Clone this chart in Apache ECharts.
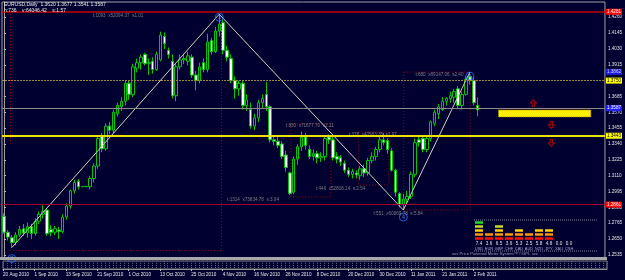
<!DOCTYPE html>
<html>
<head>
<meta charset="utf-8">
<title>EURUSD Daily</title>
<script src="https://cdn.jsdelivr.net/npm/echarts@6/dist/echarts.min.js"></script>
<style>
html, body { margin: 0; padding: 0; background: #000030; }
#chart { width: 625px; height: 280px; }
</style>
</head>
<body>
<div id="chart"></div>
<script>
// daily candles: [open, close, low, high]
var candles = [
    [1.2816, 1.2700, 1.2690, 1.2838], [1.2700, 1.2665, 1.2640, 1.2715], [1.2660, 1.2625, 1.2588, 1.2680],
    [1.2625, 1.2680, 1.2605, 1.2700], [1.2680, 1.2720, 1.2665, 1.2745], [1.2725, 1.2695, 1.2675, 1.2760],
    [1.2695, 1.2740, 1.2660, 1.2770], [1.2740, 1.2690, 1.2650, 1.2760], [1.2690, 1.2780, 1.2675, 1.2800],
    [1.2780, 1.2830, 1.2760, 1.2850], [1.2830, 1.2850, 1.2800, 1.2895], [1.2860, 1.2690, 1.2675, 1.2875],
    [1.2720, 1.2700, 1.2670, 1.2750], [1.2700, 1.2725, 1.2680, 1.2745], [1.2715, 1.2705, 1.2650, 1.2740],
    [1.2705, 1.2810, 1.2690, 1.2830], [1.2810, 1.2890, 1.2790, 1.2910], [1.2890, 1.3000, 1.2870, 1.3010],
    [1.3000, 1.3060, 1.2980, 1.3080], [1.3070, 1.3030, 1.3010, 1.3085], [1.3030, 1.3032, 1.3028, 1.3035],
    [1.3032, 1.3030, 1.3028, 1.3035], [1.3030, 1.3090, 1.3010, 1.3110], [1.3090, 1.3180, 1.3060, 1.3200],
    [1.3180, 1.3380, 1.3160, 1.3400], [1.3395, 1.3305, 1.3280, 1.3420], [1.3305, 1.3470, 1.3290, 1.3490],
    [1.3470, 1.3440, 1.3410, 1.3500], [1.3440, 1.3570, 1.3420, 1.3590], [1.3560, 1.3620, 1.3540, 1.3640],
    [1.3610, 1.3650, 1.3580, 1.3680], [1.3650, 1.3780, 1.3620, 1.3800], [1.3780, 1.3700, 1.3660, 1.3800],
    [1.3700, 1.3900, 1.3680, 1.3920], [1.3890, 1.3930, 1.3860, 1.3960], [1.3930, 1.3970, 1.3880, 1.3990],
    [1.3990, 1.3925, 1.3910, 1.4000], [1.3925, 1.3930, 1.3840, 1.3960], [1.3940, 1.3880, 1.3850, 1.3970],
    [1.3880, 1.3990, 1.3870, 1.4010], [1.3950, 1.4130, 1.3940, 1.4155], [1.4120, 1.4070, 1.4030, 1.4150],
    [1.4020, 1.3990, 1.3960, 1.4040], [1.3940, 1.3690, 1.3670, 1.3990], [1.3690, 1.3900, 1.3650, 1.3920],
    [1.3900, 1.3950, 1.3880, 1.3990], [1.3950, 1.3960, 1.3920, 1.3990], [1.3940, 1.3980, 1.3910, 1.4010],
    [1.3970, 1.3840, 1.3820, 1.3990], [1.3840, 1.3800, 1.3730, 1.3870], [1.3800, 1.3900, 1.3780, 1.3930],
    [1.3930, 1.3880, 1.3860, 1.3960], [1.3880, 1.4080, 1.3860, 1.4140], [1.4090, 1.4010, 1.3990, 1.4110],
    [1.4010, 1.4160, 1.4000, 1.4190], [1.4160, 1.4210, 1.4120, 1.4282], [1.4220, 1.4020, 1.3990, 1.4250],
    [1.4020, 1.3970, 1.3940, 1.4050], [1.3960, 1.3800, 1.3780, 1.3990], [1.3800, 1.3740, 1.3670, 1.3830],
    [1.3740, 1.3780, 1.3690, 1.3800], [1.3780, 1.3620, 1.3590, 1.3800], [1.3620, 1.3660, 1.3580, 1.3700],
    [1.3590, 1.3470, 1.3450, 1.3640], [1.3470, 1.3530, 1.3440, 1.3560], [1.3530, 1.3640, 1.3500, 1.3660],
    [1.3640, 1.3670, 1.3600, 1.3700], [1.3700, 1.3610, 1.3580, 1.3790], [1.3610, 1.3370, 1.3350, 1.3620],
    [1.3370, 1.3360, 1.3330, 1.3400], [1.3360, 1.3330, 1.3310, 1.3390], [1.3340, 1.3250, 1.3230, 1.3360],
    [1.3260, 1.3170, 1.3140, 1.3290], [1.3130, 1.2980, 1.2969, 1.3140], [1.2990, 1.3230, 1.2975, 1.3250],
    [1.3230, 1.3320, 1.3190, 1.3340], [1.3320, 1.3390, 1.3290, 1.3430], [1.3390, 1.3330, 1.3300, 1.3420],
    [1.3300, 1.3250, 1.3230, 1.3330], [1.3250, 1.3270, 1.3220, 1.3300], [1.3270, 1.3240, 1.3200, 1.3290],
    [1.3240, 1.3250, 1.3210, 1.3280], [1.3250, 1.3380, 1.3220, 1.3400], [1.3390, 1.3370, 1.3340, 1.3410],
    [1.3370, 1.3240, 1.3220, 1.3400], [1.3250, 1.3230, 1.3200, 1.3280], [1.3240, 1.3210, 1.3180, 1.3260],
    [1.3200, 1.3150, 1.3130, 1.3220], [1.3150, 1.3120, 1.3100, 1.3170], [1.3120, 1.3140, 1.3090, 1.3160],
    [1.3130, 1.3115, 1.3090, 1.3150], [1.3110, 1.3160, 1.3080, 1.3180], [1.3160, 1.3130, 1.3100, 1.3190],
    [1.3130, 1.3220, 1.3110, 1.3240], [1.3220, 1.3250, 1.3200, 1.3280], [1.3250, 1.3300, 1.3220, 1.3320],
    [1.3300, 1.3370, 1.3280, 1.3400], [1.3370, 1.3350, 1.3330, 1.3420], [1.3365, 1.3300, 1.3270, 1.3380],
    [1.3290, 1.3150, 1.3140, 1.3310], [1.3150, 1.2990, 1.2960, 1.3160], [1.2980, 1.2900, 1.2880, 1.2990],
    [1.2900, 1.2940, 1.2861, 1.2980], [1.2940, 1.2960, 1.2910, 1.3000], [1.2960, 1.3120, 1.2940, 1.3140],
    [1.3120, 1.3350, 1.3100, 1.3380], [1.3370, 1.3350, 1.3320, 1.3400], [1.3380, 1.3300, 1.3280, 1.3400],
    [1.3300, 1.3380, 1.3280, 1.3400], [1.3380, 1.3500, 1.3360, 1.3510], [1.3490, 1.3570, 1.3470, 1.3590],
    [1.3560, 1.3610, 1.3520, 1.3630], [1.3590, 1.3650, 1.3580, 1.3680], [1.3650, 1.3670, 1.3620, 1.3680],
    [1.3670, 1.3690, 1.3640, 1.3720], [1.3680, 1.3720, 1.3640, 1.3740], [1.3740, 1.3620, 1.3600, 1.3760],
    [1.3620, 1.3700, 1.3590, 1.3720], [1.3700, 1.3810, 1.3690, 1.3830], [1.3830, 1.3800, 1.3770, 1.3862],
    [1.3800, 1.3640, 1.3620, 1.3830], [1.3620, 1.3587, 1.3541, 1.3677]
];

var dateLabels = ['20 Aug 2010', '1 Sep 2010', '13 Sep 2010', '21 Sep 2010', '1 Oct 2010', '13 Oct 2010',
    '25 Oct 2010', '4 Nov 2010', '16 Nov 2010', '26 Nov 2010', '8 Dec 2010', '20 Dec 2010', '30 Dec 2010',
    '11 Jan 2011', '21 Jan 2011', '2 Feb 2011'];
var priceTicks = [1.2535, 1.2650, 1.2765, 1.2880, 1.2995, 1.3110, 1.3225, 1.3340, 1.3455, 1.3570,
    1.3685, 1.3800, 1.3915, 1.4030, 1.4145, 1.4260];

// zigzag wave points (bar index, price)
var waveBar = [2, 55, 102, 119];
var wavePrice = [1.2588, 1.4282, 1.2861, 1.3862];
var waveName = ['2', '3', '4', '5'];

// horizontal levels (drawn lines) and their tags on the price scale
var levelPrice = [1.4281, 1.3750, 1.3587, 1.3443, 1.2861];
var levelTag = ['1.4281', '1.3750', '1.3587', '1.3443', '1.2861'];
// price tag without a line (recent high)
var highTagPrice = [1.3862];
var highTag = ['1.3862'];

// box / time annotations
var noteBar = [22.7, 57.0, 72.0, 79.7, 88.1, 94.4, 105.1];
var notePrice = [1.4269, 1.2934, 1.3471, 1.3013, 1.3405, 1.2832, 1.3841];
var noteText = ['t:1093  x52094.37  s1.01', 't:1314  x73834.78  s:3.04', 't:830  x71677.70  s2.21',
    't:446  x52816.14  s:2.54', 't:378  x40583.35  s1.97', 't:551  x60069.78  s:5.84', 't:680  x89147.06  s2.40'];
var boxes = [[73.3, 1.3485, 83.5, 1.2955], [90.6, 1.3427, 98.3, 1.3042], [102.1, 1.3862, 119.1, 1.2861]];
var dotSegments = [
    [1.5, 1.4283, 1.5, 1.3333], [55.5, 1.4283, 55.5, 1.2571], [1.5, 1.2571, 55.5, 1.2571]
];
var bandBars = [126.3, 149.9];
var bandPrices = [1.3587, 1.3536];
var arrowBar = [135.2, 139.8, 139.8];
var arrowPrice = [1.3637, 1.3478, 1.3347];
var arrowUp = [true, false, false];

// currency strength meter
var meterCurrencies = ['USD', 'EUR', 'GBP', 'CHF', 'CAD', 'AUD', 'NZD', 'JPY', 'XAU', 'CNH'];
var meterValues = ['7.4', '3.6', '6.5', '3.6', '5.3', '2.5', '5.8', '4.8', '0.0', '0.0'];
var meterSegments = [5, 2, 4, 2, 3, 2, 3, 3, 0, 0];

var N = 154;
var slots = [];
for (var i = 0; i < N; i++) slots.push(String(i));
var slotsSub = slots.concat([String(N)]);

var FONT = 'Liberation Sans';
var meterColors = ['#ff1010', '#ff9a00', '#ffd000', '#c8d820', '#20e020'];
var waveOffset = [11, 3, 7, 4];

var levelLine = [
    { color: '#c00000', width: 1.5, type: 'solid' },
    { color: '#a08830', width: 1, type: [2, 1] },
    { color: '#8a8a8a', width: 1, type: 'solid' },
    { color: '#ece000', width: 2, type: 'solid' },
    { color: '#a00030', width: 1.2, type: 'solid' }
];
var tagBg = ['#ff0000', '#ffff00', '#2020ff', '#ffff00', '#ff0000'];
var tagFg = ['#ffffff', '#000000', '#ffffff', '#000000', '#ffffff'];

var meterData = [];
meterSegments.forEach(function (n, ci) {
    for (var k = 0; k < n; k++) meterData.push([ci, k]);
});

function dateTick(index) {
    return index % 8 === 0 && index / 8 < dateLabels.length;
}

var chart = echarts.init(document.getElementById('chart'));

chart.setOption({
    backgroundColor: '#000030',
    animation: false,
    textStyle: { fontFamily: FONT },
    grid: [
        { left: 2, right: 18, top: 2, height: 256, show: true, borderColor: '#a0a0a0', borderWidth: 1, backgroundColor: 'transparent' },
        { left: 2, right: 18, top: 261, height: 8, show: true, borderColor: '#808080', borderWidth: 1 },
        { left: 474, width: 100, top: 220.5, height: 20 }
    ],
    xAxis: [
        { type: 'category', gridIndex: 0, data: slots, boundaryGap: true, show: false },
        { type: 'value', gridIndex: 0, min: -0.5, max: N - 0.5, show: false },
        {
            type: 'category', gridIndex: 1, data: slotsSub, boundaryGap: false,
            axisLine: { lineStyle: { color: '#909090' } },
            axisTick: { interval: dateTick, length: 2, lineStyle: { color: '#c0c0c0' } },
            axisLabel: {
                interval: dateTick, align: 'left', margin: 3, fontSize: 4.6, color: '#e8e8e8',
                formatter: function (v, idx) { return dateLabels[idx / 8] || ''; }
            },
            splitLine: { show: true, interval: 0, lineStyle: { color: '#5c5c74', width: 1, type: [1, 1] } }
        },
        {
            type: 'category', gridIndex: 2, data: meterCurrencies,
            axisLine: { show: false }, axisTick: { show: false },
            axisLabel: {
                interval: 0, margin: 1, lineHeight: 5,
                formatter: function (v, idx) { return '{v|' + meterValues[idx] + '}\n{n|' + v + '}'; },
                rich: {
                    v: { color: '#e0e0e0', fontSize: 4.6, lineHeight: 5, fontFamily: FONT },
                    n: { color: '#9fa8d0', fontSize: 4, lineHeight: 5, fontFamily: FONT }
                }
            }
        }
    ],
    yAxis: [
        {
            type: 'value', gridIndex: 0, position: 'right', min: 1.25127, max: 1.43704,
            axisLine: { show: true, lineStyle: { color: '#a0a0a0' } },
            axisTick: { show: true, customValues: priceTicks, length: 2, lineStyle: { color: '#c0c0c0' } },
            axisLabel: {
                customValues: priceTicks, margin: 3, fontSize: 4.6, color: '#e0e0e0',
                formatter: function (v) { return v.toFixed(4); }
            },
            splitLine: { show: false }
        },
        { type: 'value', gridIndex: 1, min: 0, max: 1, show: false },
        { type: 'value', gridIndex: 2, min: 0, max: 5, show: false }
    ],
    series: [
        {
            type: 'candlestick', xAxisIndex: 0, yAxisIndex: 0, data: candles, barWidth: 3,
            itemStyle: { color: '#000030', color0: '#ffffff', borderColor: '#00c800', borderColor0: '#00c800', borderWidth: 1 },
            markLine: {
                silent: true, symbol: ['none', 'none'], animation: false,
                data: levelPrice.map(function (p, k) {
                    return {
                        yAxis: p, lineStyle: levelLine[k],
                        label: {
                            show: true, position: 'end', distance: 1, formatter: levelTag[k],
                            fontSize: 4.6, color: tagFg[k], backgroundColor: tagBg[k], padding: [1, 1, 0, 1],
                            fontFamily: FONT
                        }
                    };
                })
            }
        },
        {
            type: 'line', xAxisIndex: 1, yAxisIndex: 0, symbol: 'none', z: 3,
            data: waveBar.map(function (b, k) { return [b, wavePrice[k]]; }),
            lineStyle: { color: '#d8d0b8', width: 1 },
            markLine: {
                silent: true, symbol: ['none', 'none'],
                lineStyle: { color: '#a00010', width: 1, type: [1, 2] },
                label: { show: false },
                data: dotSegments.map(function (s) { return [{ coord: [s[0], s[1]] }, { coord: [s[2], s[3]] }]; })
            },
            markArea: {
                silent: true,
                itemStyle: { color: 'rgba(0,0,0,0)', borderColor: '#a00010', borderWidth: 1, borderType: [1, 2] },
                data: boxes.map(function (b) { return [{ coord: [b[0], b[1]] }, { coord: [b[2], b[3]] }]; })
            }
        },
        {
            type: 'scatter', xAxisIndex: 1, yAxisIndex: 0, z: 4,
            data: waveBar.map(function (b, k) {
                return { value: [b, wavePrice[k]], name: waveName[k], symbolOffset: [0, waveOffset[k]] };
            }),
            symbol: 'circle', symbolSize: 8,
            itemStyle: { color: 'rgba(0,0,0,0)', borderColor: '#2f6cff', borderWidth: 1 },
            label: { show: true, position: 'inside', formatter: '{b}', color: '#5a8cff', fontSize: 6 }
        },
        {
            type: 'scatter', xAxisIndex: 1, yAxisIndex: 0, symbolSize: 0, z: 4,
            data: noteBar.map(function (b, k) { return { value: [b, notePrice[k]], name: noteText[k] }; }),
            label: { show: true, position: 'right', distance: 0, formatter: '{b}', color: '#9a9a9a', fontSize: 4.6 }
        },
        {
            // tag of the recent high on the price scale
            type: 'scatter', xAxisIndex: 1, yAxisIndex: 0, symbolSize: 0, z: 6,
            data: highTagPrice.map(function (p, k) { return { value: [N - 0.5, p], name: highTag[k] }; }),
            label: {
                show: true, position: 'right', distance: 1, formatter: '{b}', fontSize: 4.6,
                color: '#ffffff', backgroundColor: '#2020ff', padding: [1, 1, 0, 1], fontFamily: FONT
            }
        },
        {
            type: 'scatter', xAxisIndex: 1, yAxisIndex: 0, z: 4,
            symbol: 'path://M5 0 L10 5 L7 5 L7 10 L3 10 L3 5 L0 5 Z', symbolSize: [6, 7],
            data: arrowBar.map(function (b, k) { return { value: [b, arrowPrice[k]], symbolRotate: arrowUp[k] ? 0 : 180 }; }),
            itemStyle: { color: 'rgba(0,0,0,0)', borderColor: '#e00000', borderWidth: 1 },
            markArea: {
                silent: true,
                itemStyle: { color: '#ffee00', borderColor: '#b08a00', borderWidth: 1, borderType: [1, 1] },
                data: [[{ coord: [bandBars[0], bandPrices[0]] }, { coord: [bandBars[1], bandPrices[1]] }]]
            }
        },
        {
            type: 'custom', xAxisIndex: 3, yAxisIndex: 2, data: meterData,
            renderItem: function (params, api) {
                var c = api.coord([api.value(0), api.value(1) + 0.5]);
                return {
                    type: 'rect',
                    shape: { x: c[0] - 4, y: c[1] - 1.25, width: 8, height: 2.5 },
                    style: { fill: meterColors[api.value(1)] }
                };
            }
        }
    ],
    graphic: [
        { type: 'text', left: 4, top: 2, z: 10, style: { text: 'EURUSD,Daily  1.3620 1.3677 1.3541 1.3587', fill: '#e8e8e8', font: '5px ' + FONT } },
        { type: 'text', left: 4, top: 8, z: 10, style: { text: 'h:736    v:64046.42    s:1.57', fill: '#e8e8e8', font: '5px ' + FONT } },
        { type: 'rect', z: 10, shape: { x: 0, y: 257, width: 607, height: 3 }, style: { fill: '#a8a8a8' } },
        { type: 'line', z: 10, shape: { x1: 474, y1: 220, x2: 598, y2: 220 }, style: { stroke: '#8080a0', lineWidth: 1, lineDash: [1, 1] } },
        { type: 'line', z: 10, shape: { x1: 474, y1: 251, x2: 598, y2: 251 }, style: { stroke: '#8080a0', lineWidth: 1, lineDash: [1, 1] } },
        { type: 'text', left: 452, top: 252, z: 10, style: { text: 'xxx Price Powered Meter System\u2122 \u00a9GPL xxx', fill: '#9a9ab0', font: '4.2px ' + FONT } }
    ]
});
</script>
</body>
</html>
